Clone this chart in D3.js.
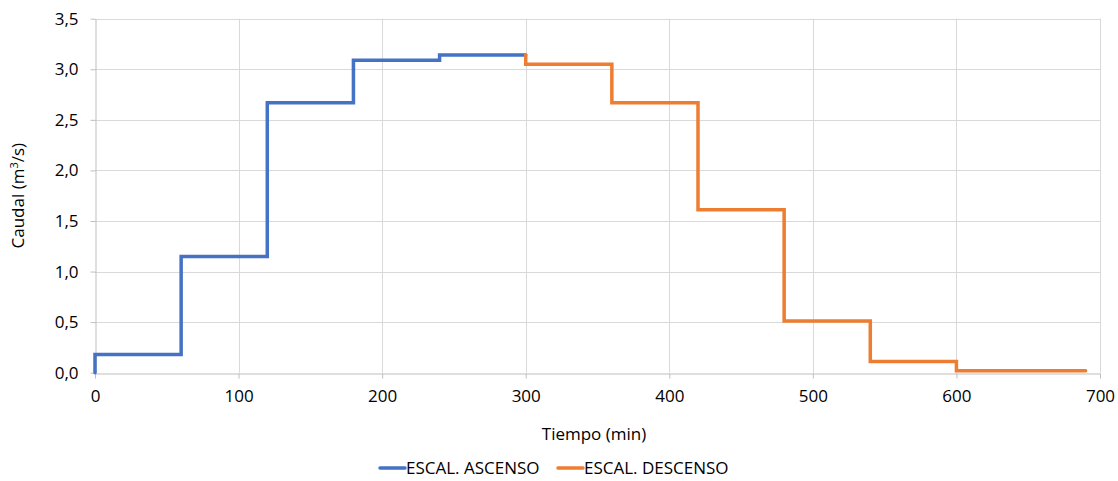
<!DOCTYPE html>
<html>
<head>
<meta charset="utf-8">
<script src="https://cdn.jsdelivr.net/npm/d3@7"></script>
<style>
  html, body { margin: 0; padding: 0; background: #fff; }
  svg { display: block; }
  text { font-family: "Open Sans", "Noto Sans", sans-serif; fill: #000; }
</style>
</head>
<body>
<svg id="chart" width="1118" height="481"></svg>
<script>
// Data
const ascTimes   = [0, 0, 60, 120, 180, 240, 300];
const ascValues  = [0, 0.18, 1.15, 2.67, 3.09, 3.14, 3.14];
const descTimes  = [300, 300, 360, 420, 480, 540, 600, 690];
const descValues = [3.14, 3.05, 2.67, 1.61, 0.51, 0.11, 0.02, 0.02];
const xTicks = [0, 100, 200, 300, 400, 500, 600, 700];
const yTicks = [0, 0.5, 1.0, 1.5, 2.0, 2.5, 3.0, 3.5];
const seriesNames = ["ESCAL. ASCENSO", "ESCAL. DESCENSO"];
const seriesColors = ["#4472C4", "#ED7D31"];

const FS = "17px";
const svg = d3.select("#chart");
const m = { left: 95, right: 1100, top: 18.7, bottom: 372.7 };

const x = d3.scaleLinear().domain([0, 700]).range([m.left, m.right]);
const y = d3.scaleLinear().domain([0, 3.5]).range([m.bottom, m.top]);

// Gridlines
const grid = svg.append("g");
grid.selectAll("line.h").data(yTicks.filter(d => d > 0)).enter().append("line")
  .attr("x1", m.left).attr("x2", m.right)
  .attr("y1", d => Math.round(y(d)) + 0.5).attr("y2", d => Math.round(y(d)) + 0.5)
  .attr("stroke", "#d9d9d9").attr("stroke-width", 1);
grid.selectAll("line.v").data(xTicks.filter(d => d > 0)).enter().append("line")
  .attr("y1", m.top).attr("y2", m.bottom)
  .attr("x1", d => Math.round(x(d)) + 0.5).attr("x2", d => Math.round(x(d)) + 0.5)
  .attr("stroke", "#d9d9d9").attr("stroke-width", 1);

// Axes
const fmt = d => d3.format(".1f")(d).replace(".", ",");
const yAxis = svg.append("g").attr("transform", `translate(${Math.round(m.left) + 0.5},0)`)
  .call(d3.axisLeft(y).tickValues(yTicks).tickFormat(fmt).tickSizeInner(5).tickSizeOuter(0).tickPadding(12));
const xAxis = svg.append("g").attr("transform", `translate(0,${Math.round(m.bottom) + 0.5})`)
  .call(d3.axisBottom(x).tickValues(xTicks).tickFormat(d3.format("d")).tickSizeInner(5).tickSizeOuter(0).tickPadding(11));
[xAxis, yAxis].forEach(a => {
  a.attr("font-size", null).attr("font-family", null);
  a.select(".domain").attr("stroke", "#bfbfbf");
  a.selectAll(".tick line").attr("stroke", "#bfbfbf");
  a.selectAll(".tick text").style("font-size", FS).attr("fill", "#000");
});

// Lines
const line = d3.line().x(d => x(d[0])).y(d => y(d[1])).curve(d3.curveStepAfter);
const ascData = ascTimes.map((t, i) => [t, ascValues[i]]);
const descData = descTimes.map((t, i) => [t, descValues[i]]);
[ascData, descData].forEach((data, i) => {
  svg.append("path").datum(data).attr("d", line)
    .attr("fill", "none").attr("stroke", seriesColors[i])
    .attr("stroke-width", 3.5).attr("stroke-linejoin", "miter").attr("stroke-linecap", "round");
});

// Axis titles
svg.append("text").attr("x", 594).attr("y", 440)
  .attr("text-anchor", "middle").style("font-size", FS).text("Tiempo (min)");
const yt = svg.append("text").attr("transform", `translate(24,${(m.top + m.bottom) / 2}) rotate(-90)`)
  .attr("text-anchor", "middle").style("font-size", FS);
yt.append("tspan").text("Caudal (m");
yt.append("tspan").attr("dy", -6).style("font-size", "11px").text("3");
yt.append("tspan").attr("dy", 6).text("/s)");

// Legend
const legX = [380, 558];
seriesNames.forEach((name, i) => {
  const g = svg.append("g").attr("transform", `translate(${legX[i]},468)`);
  g.append("line").attr("x1", 0).attr("x2", 25).attr("y1", 0).attr("y2", 0)
    .attr("stroke", seriesColors[i]).attr("stroke-width", 3.5).attr("stroke-linecap", "round");
  g.append("text").attr("x", 26).attr("y", 6).style("font-size", FS).text(name);
});
</script>
</body>
</html>
